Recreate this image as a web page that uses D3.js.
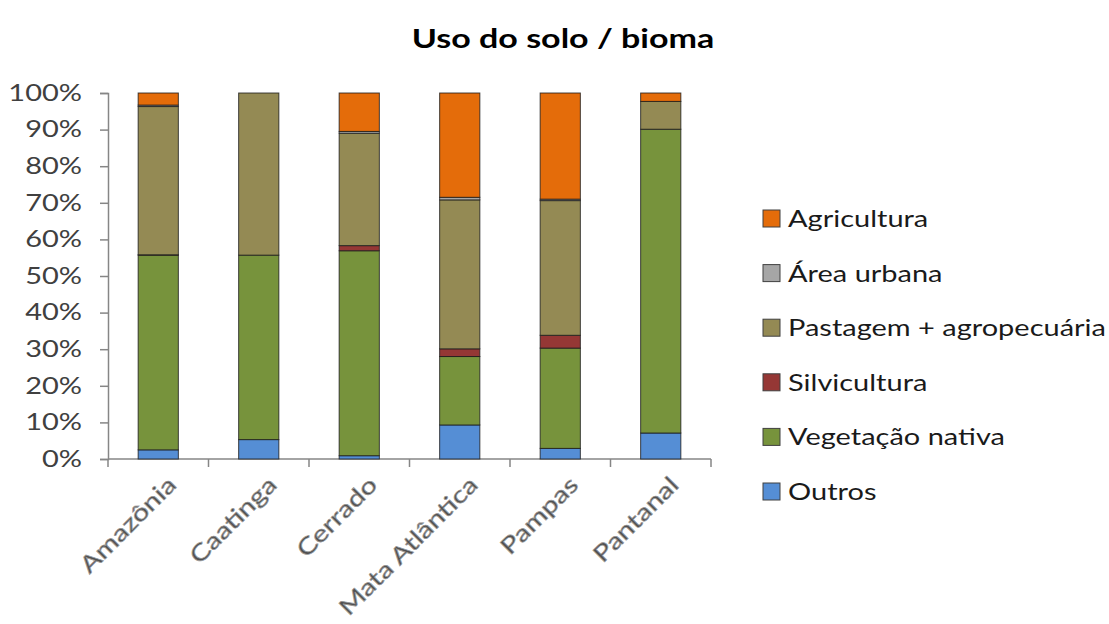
<!DOCTYPE html>
<html><head><meta charset="utf-8">
<script src="https://cdn.jsdelivr.net/npm/d3@7"></script>
<style>body{margin:0;background:#fff}</style>
</head><body>
<svg id="c" width="1109" height="624"></svg>
<script>
const categories = ["Amazônia","Caatinga","Cerrado","Mata Atlântica","Pampas","Pantanal"];
const seriesNames = ["Outros","Vegetação nativa","Silvicultura","Pastagem + agropecuária","Área urbana","Agricultura"];
const outros     = [2.5, 5.3, 0.9, 9.3, 2.9, 7.1];
const vegetacao  = [53.2, 50.4, 56.0, 18.7, 27.4, 83.0];
const silvicult  = [0.1, 0.0, 1.4, 2.1, 3.5, 0.0];
const pastagem   = [40.5, 44.3, 30.7, 40.7, 36.8, 7.6];
const urbana     = [0.4, 0.0, 0.5, 0.7, 0.4, 0.0];
const agricult   = [3.3, 0.0, 10.5, 28.5, 29.0, 2.3];
const colors = ["#558ED5","#77933C","#953735","#948A54","#A6A6A6","#E46C0A"];
const yTicks = [0,10,20,30,40,50,60,70,80,90,100];
const legendOrder = ["Agricultura","Área urbana","Pastagem + agropecuária","Silvicultura","Vegetação nativa","Outros"];

const seriesVals = [outros, vegetacao, silvicult, pastagem, urbana, agricult];
const rows = categories.map((c,i)=>{const o={cat:c}; seriesNames.forEach((s,j)=>o[s]=seriesVals[j][i]); return o;});
const stack = d3.stack().keys(seriesNames).offset(d3.stackOffsetExpand)(rows);

const svg = d3.select("#c");
const font = "Lato, 'Open Sans', sans-serif";
const SX = 1.26; // horizontal glyph stretch
const x = d3.scaleBand().domain(categories).range([108,711]).paddingInner(0.6).paddingOuter(0.3);
const y = d3.scaleLinear().domain([0,1]).range([459,93]);
const color = d3.scaleOrdinal().domain(seriesNames).range(colors);

svg.append("text").attr("transform",`translate(563,48) scale(${SX},1)`).attr("text-anchor","middle")
  .attr("font-family",font).attr("font-weight","bold").attr("font-size",27).attr("fill","#000")
  .text("Uso do solo / bioma");

// y axis
const ya = svg.append("g").attr("transform","translate(108,0)")
  .call(d3.axisLeft(y).tickValues(yTicks.map(v=>v/100)).tickFormat(d=>Math.round(d*100)+"%").tickSize(8).tickPadding(18));
ya.select(".domain").attr("stroke","#868686").attr("stroke-width",1.5);
ya.selectAll(".tick line").attr("stroke","#868686").attr("stroke-width",1.5);
ya.selectAll("text").attr("x",-26/SX).attr("transform",`scale(${SX},1)`)
  .attr("font-family",font).attr("font-size",23).attr("fill","#404040");

// x axis
const xBoundary = d3.scaleLinear().domain([0,categories.length]).range([108,711]);
const xa = svg.append("g").attr("transform","translate(0,459)");
xa.append("line").attr("x1",108).attr("x2",711).attr("stroke","#868686").attr("stroke-width",1.5);
xa.selectAll(".tk").data(d3.range(categories.length+1)).join("line")
  .attr("x1",d=>xBoundary(d)).attr("x2",d=>xBoundary(d)).attr("y1",0).attr("y2",8)
  .attr("stroke","#868686").attr("stroke-width",1.5);
xa.selectAll(".lbl").data(categories).join("text")
  .attr("transform",d=>`translate(${x(d)+x.bandwidth()/2+8},${16}) rotate(-45) scale(${SX},1)`)
  .attr("text-anchor","end").attr("dy","0.7em")
  .attr("font-family",font).attr("font-size",23).attr("fill","#505050")
  .attr("stroke","#999").attr("stroke-width",0.7)
  .text(d=>d);

// bars
svg.append("g").selectAll("g").data(stack).join("g")
  .attr("fill",d=>color(d.key))
  .selectAll("rect").data(d=>d).join("rect")
  .attr("x",d=>x(d.data.cat)).attr("width",x.bandwidth())
  .attr("y",d=>y(d[1])).attr("height",d=>Math.max(0,y(d[0])-y(d[1])))
  .attr("stroke","#1a1a1a").attr("stroke-width",1).attr("stroke-opacity",0.8);

// legend
const lg = svg.append("g");
const ly = d3.scaleLinear().domain([0,5]).range([219,492]);
legendOrder.forEach((s,i)=>{
  lg.append("rect").attr("x",763).attr("y",ly(i)-9).attr("width",17).attr("height",17)
    .attr("fill",color(s)).attr("stroke","#404040").attr("stroke-width",1);
  lg.append("text").attr("transform",`translate(788,${ly(i)}) scale(${SX},1)`).attr("dy","0.35em")
    .attr("font-family",font).attr("font-size",23).attr("fill","#1a1a1a").text(s);
});
</script>
</body></html>
